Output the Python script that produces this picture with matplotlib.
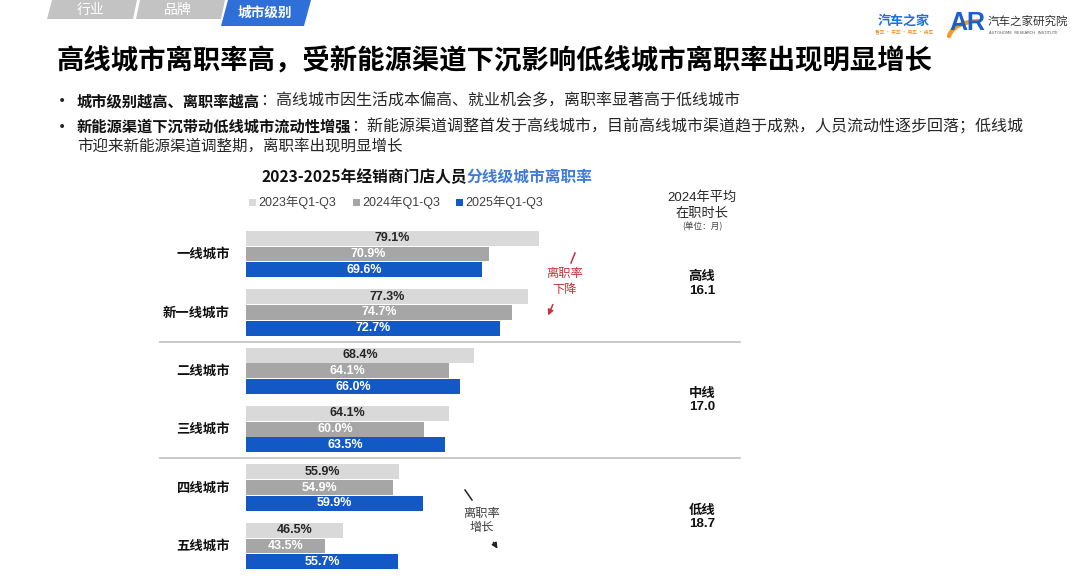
import matplotlib
matplotlib.use("Agg")
import matplotlib.pyplot as plt
from matplotlib.patches import Polygon, Rectangle, PathPatch
from matplotlib.path import Path
from matplotlib.transforms import blended_transform_factory

plt.rcParams['font.family'] = ['Noto Sans CJK SC', 'DejaVu Sans']

# ---------------- data ----------------
categories = ['一线城市', '新一线城市', '二线城市', '三线城市', '四线城市', '五线城市']
rate_2023 = [79.1, 77.3, 68.4, 64.1, 55.9, 46.5]
rate_2024 = [70.9, 74.7, 64.1, 60.0, 54.9, 43.5]
rate_2025 = [69.6, 72.7, 66.0, 63.5, 59.9, 55.7]
series_labels = ['2023年Q1-Q3', '2024年Q1-Q3', '2025年Q1-Q3']
tier_labels = ['高线', '中线', '低线']
tenure_2024 = [16.1, 17.0, 18.7]

colors = ['#d9d9d9', '#a6a6a6', '#1259c6']
label_colors = ['#262626', 'white', 'white']

W, H = 1080, 585
fig = plt.figure(figsize=(W / 100, H / 100), dpi=100)
fig.patch.set_facecolor('white')

# background axes in pixel coordinates
bg = fig.add_axes([0, 0, 1, 1])
bg.set_xlim(0, W)
bg.set_ylim(H, 0)
bg.axis('off')

# ---------------- tabs ----------------
bg.add_patch(Polygon([(52, 0), (137, 0), (133, 19), (47, 19)], closed=True, fc='#c3c3c3', ec='none'))
bg.add_patch(Polygon([(140, 0), (225, 0), (221, 19), (136, 19)], closed=True, fc='#c3c3c3', ec='none'))
bg.add_patch(Polygon([(228, 0), (311, 0), (304, 26), (221, 26)], closed=True, fc='#2f6fd8', ec='none'))
bg.text(91, 9.5, '行业', color='white', fontsize=10, ha='center', va='center')
bg.text(178, 9.5, '品牌', color='white', fontsize=10, ha='center', va='center')
bg.text(265, 13, '城市级别', color='white', fontsize=9.8, fontweight='bold', ha='center', va='center')

# ---------------- logos ----------------
bg.text(904, 21, '汽车之家', color='#1f6fe0', fontsize=9.4, fontweight='bold', ha='center', va='center')
bg.text(904, 33, '看车 · 买车 · 用车 · 换车', color='#f08a24', fontsize=3.4, ha='center', va='center')
bg.text(967, 23, 'AR', color='#1a5fd0', fontsize=18, fontweight='bold', ha='center', va='center',
        family=['Liberation Sans', 'DejaVu Sans'])
swoosh = Path([(949, 36), (954, 22), (979, 21)], [Path.MOVETO, Path.CURVE3, Path.CURVE3])
bg.add_patch(PathPatch(swoosh, fc='none', ec='#f39a2b', lw=3.2, capstyle='round'))
bg.text(988, 21, '汽车之家研究院', color='#333333', fontsize=8.3, ha='left', va='center')
bg.text(989, 33, 'AUTOHOME  RESEARCH  INSTITUTE', color='#555555', fontsize=2.8, ha='left', va='center',
        family=['DejaVu Sans'])

# ---------------- title & bullets ----------------
bg.text(56, 62, '高线城市离职率高，受新能源渠道下沉影响低线城市离职率出现明显增长',
        fontsize=19.7, fontweight='bold', color='black', ha='left', va='center')

def bullet_line(y, bold, rest):
    bg.text(62, y, '•', fontsize=10, color='#262626', ha='center', va='center', family=['DejaVu Sans'])
    t1 = bg.text(77, y, bold, fontsize=11, fontweight='bold', color='#111111', ha='left', va='center')
    bg.annotate(rest, xy=(1, 0.5), xycoords=t1, fontsize=11.5, color='#262626', ha='left', va='center')

bullet_line(101, '城市级别越高、离职率越高', '：高线城市因生活成本偏高、就业机会多，离职率显著高于低线城市')
bullet_line(127, '新能源渠道下沉带动低线城市流动性增强',
            '：新能源渠道调整首发于高线城市，目前高线城市渠道趋于成熟，人员流动性逐步回落；低线城')
bg.text(77, 146, '市迎来新能源渠道调整期，离职率出现明显增长', fontsize=11.2, color='#262626', ha='left', va='center')

# ---------------- chart title ----------------
bg.text(467, 177, '2023-2025年经销商门店人员', fontsize=11.3, fontweight='bold', color='#111111',
        ha='right', va='center')
bg.text(467, 177, '分线级城市离职率', fontsize=11.3, fontweight='bold', color='#3f7ad6',
        ha='left', va='center')

# ---------------- legend ----------------
leg_x = [249, 353, 456]
for lx, lab, c in zip(leg_x, series_labels, colors):
    bg.add_patch(Rectangle((lx, 198.5), 7, 7, fc=c, ec='none'))
    bg.text(lx + 9, 202, lab, fontsize=9, color='#404040', ha='left', va='center',
            family=['Liberation Sans', 'Noto Sans CJK SC'])

# ---------------- bars ----------------
ax_left, ax_right = 246, 780
ax_top, ax_bot = 225, 575
ax = fig.add_axes([ax_left / W, 1 - ax_bot / H, (ax_right - ax_left) / W, (ax_bot - ax_top) / H])
ax.patch.set_visible(False)
x0 = 30.33
ax.set_xlim(x0, x0 + (ax_right - ax_left) / 6.0)
ax.set_ylim(5.497, -0.497)
ax.axis('off')

offsets = [-0.269, 0.0, 0.269]
bar_h = 0.255
series = [rate_2023, rate_2024, rate_2025]
n = len(categories)
for s, (vals, off) in enumerate(zip(series, offsets)):
    ys = [i + off for i in range(n)]
    ax.barh(ys, vals, left=0, height=bar_h, color=colors[s], edgecolor='none')
    for yy, v in zip(ys, vals):
        ax.text((x0 + v) / 2, yy, f'{v:.1f}%', ha='center', va='center', fontsize=9,
                fontweight='bold', color=label_colors[s], family=['Liberation Sans', 'DejaVu Sans'])

tr = blended_transform_factory(bg.transData, ax.transData)
for i, cat in enumerate(categories):
    ax.text(230, i, cat, transform=tr, ha='right', va='center', fontsize=9.6,
            fontweight='bold', color='#111111')

# separators
for yy in [1.5, 3.5]:
    ax.plot([160, 740], [yy, yy], transform=tr, color='#c4c4c4', lw=1.3, clip_on=False)

# right column
bg.text(702, 198, '2024年平均', fontsize=9.5, color='#262626', ha='center', va='center',
        family=['Liberation Sans', 'Noto Sans CJK SC'])
bg.text(702, 213, '在职时长', fontsize=9.5, color='#262626', ha='center', va='center')
bg.text(702, 227, '(单位：月)', fontsize=6.2, color='#404040', ha='center', va='center')
for k, (tl, tv) in enumerate(zip(tier_labels, tenure_2024)):
    yc = 2 * k + 0.5
    ax.text(702, yc - 0.125, tl, transform=tr, ha='center', va='center', fontsize=9.6,
            fontweight='bold', color='#111111')
    ax.text(702, yc + 0.125, f'{tv:.1f}', transform=tr, ha='center', va='center', fontsize=9.6,
            fontweight='bold', color='#111111', family=['Liberation Sans', 'DejaVu Sans'])

# annotations
red = '#c9303a'
bg.text(565, 273, '离职率', fontsize=8.8, color=red, ha='center', va='center')
bg.text(565, 290, '下降', fontsize=8.8, color=red, ha='center', va='center')
bg.plot([575, 571], [253, 263], color=red, lw=1.1)
bg.annotate('', xy=(547, 318), xytext=(554, 302),
            arrowprops=dict(arrowstyle='-|>', color=red, lw=1.1, mutation_scale=8))

dark = '#404040'
bg.text(482, 513, '离职率', fontsize=8.8, color=dark, ha='center', va='center')
bg.text(482, 528, '增长', fontsize=8.8, color=dark, ha='center', va='center')
bg.plot([465, 472], [490, 500], color='#222222', lw=1.1)
bg.annotate('', xy=(499, 551), xytext=(492, 540),
            arrowprops=dict(arrowstyle='-|>', color='#222222', lw=1.1, mutation_scale=8))

fig.savefig('out.png', dpi=100, facecolor='white')
